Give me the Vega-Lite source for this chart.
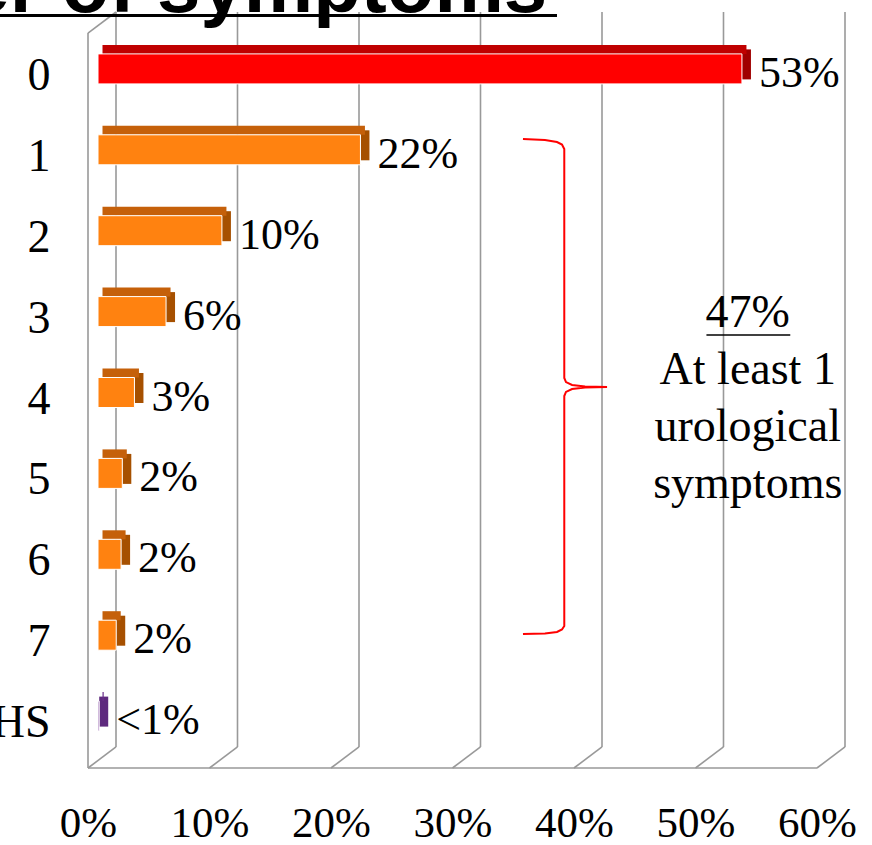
{
  "$schema": "https://vega.github.io/schema/vega-lite/v6.json",
  "width": 729,
  "height": 737,
  "autosize": {"type": "none"},
  "padding": {"left": 88, "top": 31, "right": 55, "bottom": 77},
  "background": "white",
  "config": {"view": {"stroke": null}},
  "datasets": {
    "bars": [
      {"cat": "0", "value": 53.0, "label": "53%", "group": "zero"},
      {"cat": "1", "value": 21.6, "label": "22%", "group": "some"},
      {"cat": "2", "value": 10.2, "label": "10%", "group": "some"},
      {"cat": "3", "value": 5.6, "label": "6%", "group": "some"},
      {"cat": "4", "value": 3.0, "label": "3%", "group": "some"},
      {"cat": "5", "value": 2.0, "label": "2%", "group": "some"},
      {"cat": "6", "value": 1.9, "label": "2%", "group": "some"},
      {"cat": "7", "value": 1.5, "label": "2%", "group": "some"},
      {"cat": "HS", "value": 0.1, "label": "<1%", "group": "hs"}
    ],
    "grid": [{"g": 0}, {"g": 10}, {"g": 20}, {"g": 30}, {"g": 40}, {"g": 50}, {"g": 60}],
    "brace": [
      {"o": 1, "x": 35.80, "y": 0.780},
      {"o": 2, "x": 37.61, "y": 0.792},
      {"o": 3, "x": 38.60, "y": 0.817},
      {"o": 4, "x": 39.01, "y": 0.848},
      {"o": 5, "x": 39.20, "y": 0.904},
      {"o": 6, "x": 39.20, "y": 3.734},
      {"o": 7, "x": 39.34, "y": 3.784},
      {"o": 8, "x": 39.84, "y": 3.821},
      {"o": 9, "x": 40.91, "y": 3.839},
      {"o": 10, "x": 42.72, "y": 3.845},
      {"o": 11, "x": 40.91, "y": 3.852},
      {"o": 12, "x": 39.84, "y": 3.870},
      {"o": 13, "x": 39.34, "y": 3.907},
      {"o": 14, "x": 39.20, "y": 3.957},
      {"o": 15, "x": 39.20, "y": 6.800},
      {"o": 16, "x": 39.01, "y": 6.843},
      {"o": 17, "x": 38.60, "y": 6.874},
      {"o": 18, "x": 37.61, "y": 6.892},
      {"o": 19, "x": 35.80, "y": 6.899}
    ]
  },
  "layer": [
    {
      "layer": [
        {
          "data": {"name": "grid"},
          "mark": {"type": "rule", "color": "#999999", "strokeWidth": 1.6, "xOffset": 28},
          "encoding": {
            "x": {"field": "g", "type": "quantitative", "scale": {"domain": [0, 60], "nice": false, "zero": true}, "axis": {"title": null, "values": [0, 10, 20, 30, 40, 50, 60], "labelExpr": "datum.value + '%'", "domain": false, "ticks": false, "grid": false, "labelFont": "Liberation Serif", "labelFontSize": 43, "labelColor": "black", "labelPadding": 34, "labelFlush": false, "labelOverlap": false}},
            "y": {"datum": -0.79, "type": "quantitative", "scale": {"domain": [-0.555, 8.555], "reverse": true, "nice": false, "zero": false}, "axis": null},
            "y2": {"datum": 8.295}
          }
        },
        {
          "data": {"name": "grid"},
          "mark": {"type": "rule", "color": "#999999", "strokeWidth": 1.6, "x2Offset": 28},
          "encoding": {
            "x": {"field": "g", "type": "quantitative"},
            "x2": {"field": "g"},
            "y": {"datum": 8.555, "type": "quantitative"},
            "y2": {"datum": 8.295}
          }
        },
        {
          "data": {"values": [{}]},
          "mark": {"type": "rule", "color": "#999999", "strokeWidth": 1.6},
          "encoding": {
            "x": {"datum": 0, "type": "quantitative"},
            "x2": {"datum": 60},
            "y": {"datum": 8.555, "type": "quantitative"}
          }
        },
        {
          "data": {"values": [{}]},
          "mark": {"type": "rule", "color": "#999999", "strokeWidth": 1.6},
          "encoding": {
            "x": {"datum": 0, "type": "quantitative"},
            "y": {"datum": -0.53, "type": "quantitative"},
            "y2": {"datum": 8.555}
          }
        },
        {
          "data": {"values": [{}]},
          "mark": {"type": "rule", "color": "#999999", "strokeWidth": 1.6, "x2Offset": 28},
          "encoding": {
            "x": {"datum": 0, "type": "quantitative"},
            "x2": {"datum": 0},
            "y": {"datum": -0.53, "type": "quantitative"},
            "y2": {"datum": -0.79}
          }
        },
        {
          "data": {"name": "brace"},
          "mark": {"type": "line", "color": "#FF0000", "strokeWidth": 2, "interpolate": "linear"},
          "encoding": {
            "x": {"field": "x", "type": "quantitative"},
            "y": {"field": "y", "type": "quantitative"},
            "order": {"field": "o", "type": "quantitative"}
          }
        },
        {
          "data": {"values": [{}]},
          "mark": {"type": "text", "text": ["47%", "At least 1", "urological", "symptoms"], "align": "center", "baseline": "alphabetic", "font": "Liberation Serif", "fontSize": 46, "lineHeight": 57, "color": "black"},
          "encoding": {
            "x": {"datum": 54.3, "type": "quantitative"},
            "y": {"datum": 3.104, "type": "quantitative"}
          }
        },
        {
          "data": {"values": [{}]},
          "mark": {"type": "rule", "color": "black", "strokeWidth": 1.6},
          "encoding": {
            "x": {"datum": 50.9, "type": "quantitative"},
            "x2": {"datum": 57.8},
            "y": {"datum": 3.203, "type": "quantitative"}
          }
        },
        {
          "data": {"values": [{}]},
          "mark": {"type": "text", "text": "Number of symptoms", "align": "left", "baseline": "alphabetic", "font": "Liberation Sans", "fontSize": 78, "fontWeight": "bold", "color": "black"},
          "encoding": {
            "x": {"datum": -28.2, "type": "quantitative"},
            "y": {"datum": -0.79, "type": "quantitative"}
          }
        },
        {
          "data": {"values": [{}]},
          "mark": {"type": "rule", "color": "black", "strokeWidth": 3},
          "encoding": {
            "x": {"datum": -7.3, "type": "quantitative"},
            "x2": {"datum": 38.6},
            "y": {"datum": -0.747, "type": "quantitative"}
          }
        }
      ]
    },
    {
      "data": {"name": "bars"},
      "encoding": {
        "y": {"field": "cat", "type": "nominal", "scale": {"domain": ["0", "1", "2", "3", "4", "5", "6", "7", "HS"], "paddingInner": 0, "paddingOuter": 0.055}, "axis": {"orient": "left", "title": null, "domain": false, "ticks": false, "labelFont": "Liberation Serif", "labelFontSize": 46, "labelColor": "black", "labelPadding": 38}}
      },
      "layer": [
        {
          "mark": {"type": "bar", "size": 30, "xOffset": 10, "x2Offset": 19, "yOffset": -11.5},
          "encoding": {
            "x": {"field": "value", "type": "quantitative"},
            "x2": {"field": "value"},
            "color": {"condition": [{"test": "datum.group === 'zero'", "value": "#A00000"}, {"test": "datum.group === 'hs'", "value": "#5E2A7E"}], "value": "#A65000"}
          }
        },
        {
          "mark": {"type": "bar", "size": 9, "xOffset": 14.5, "x2Offset": 14.5, "yOffset": -26.5},
          "encoding": {
            "x": {"field": "value", "type": "quantitative"},
            "color": {"condition": [{"test": "datum.group === 'zero'", "value": "#C00000"}, {"test": "datum.group === 'hs'", "value": "#6A2F8A"}], "value": "#C5600A"}
          }
        },
        {
          "mark": {"type": "bar", "size": 30, "xOffset": 10, "x2Offset": 10, "yOffset": -7, "stroke": "white", "strokeWidth": 1},
          "encoding": {
            "x": {"field": "value", "type": "quantitative"},
            "color": {"condition": [{"test": "datum.group === 'zero'", "value": "#FF0000"}, {"test": "datum.group === 'hs'", "value": "#7F3F9F"}], "value": "#FF8210"}
          }
        },
        {
          "mark": {"type": "text", "align": "left", "baseline": "middle", "dx": 27, "dy": -2, "font": "Liberation Serif", "fontSize": 44, "color": "black"},
          "encoding": {
            "x": {"field": "value", "type": "quantitative"},
            "text": {"field": "label"}
          }
        }
      ]
    }
  ],
  "resolve": {"scale": {"y": "independent"}, "axis": {"y": "independent"}}
}
